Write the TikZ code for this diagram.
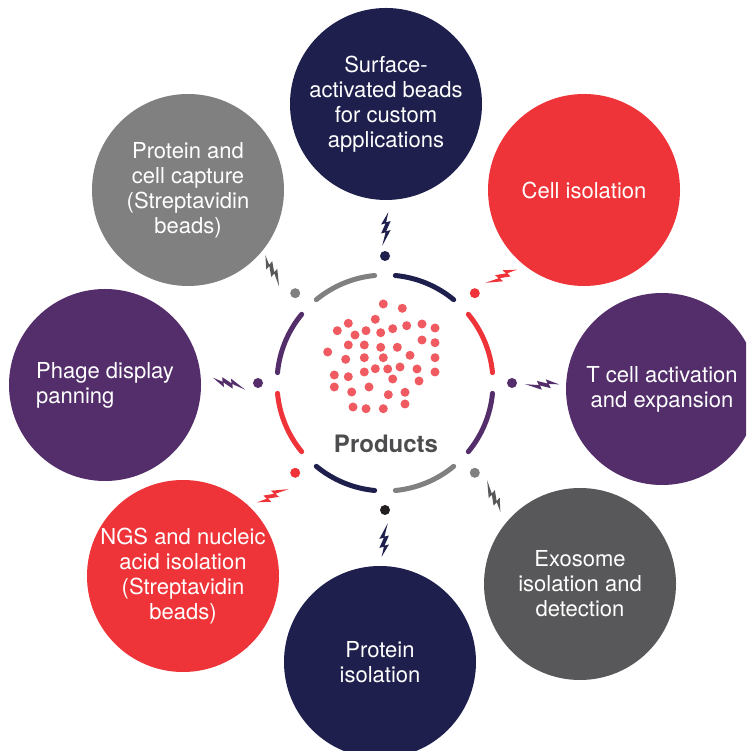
\documentclass[tikz,border=0pt]{standalone}
\usepackage{fontspec}
\setmainfont{TeX Gyre Heros}
\definecolor{cnavy}{HTML}{1E1F4C}
\definecolor{cred}{HTML}{EE3339}
\definecolor{cpurple}{HTML}{532E6B}
\definecolor{cdgray}{HTML}{58585A}
\definecolor{cgray}{HTML}{808080}
\definecolor{cdot}{HTML}{EF5B61}
\definecolor{cblack}{HTML}{231F20}
\definecolor{ctext}{HTML}{4D4D4F}
\tikzset{
  pics/bolt/.style={code={
    \fill[#1] (3,15) -- (-3.5,4) -- (0.5,5) -- (-3.5,-4) -- (0.5,-3) -- (-2.5,-15)
      -- (5,-1) -- (1,-2) -- (5,7) -- (1,6) -- cycle;}},
  sat/.style={circle, minimum size=192pt, inner sep=0pt, text=white, align=center,
    font=\fontsize{22}{25}\selectfont},
  ringarc/.style={line width=5pt, line cap=round},
  boltsize/.style={scale=1.12},
}
\begin{document}
\begin{tikzpicture}[x=1pt,y=1pt]
\useasboundingbox (0,0) rectangle (746,751);
\fill[white] (0,0) rectangle (746,751);
\clip (0,0) rectangle (746,751);

% satellite circles
\node[sat, fill=cnavy] (top) at (386,647) {Surface-\\activated beads\\for custom\\applications};
\node[sat, fill=cred] (ur) at (584,561) {Cell isolation};
\node[sat, fill=cpurple] (r) at (662,362) {T cell activation\\and expansion};
\node[sat, fill=cdgray] (lr) at (580,167) {Exosome\\isolation and\\detection};
\node[sat, fill=cnavy] (b) at (380,89) {Protein\\isolation};
\node[sat, fill=cred] (ll) at (183,175) {NGS and nucleic\\acid isolation\\(Streptavidin\\beads)};
\node[sat, fill=cpurple, align=left] (l) at (105,366) {Phage display\\panning};
\node[sat, fill=cgray] (ul) at (188,561) {Protein and\\cell capture\\(Streptavidin\\beads)};

% ring
\coordinate (c) at (385,368);
\foreach \k/\col in {0/cred,1/cnavy,2/cgray,3/cpurple,4/cred,5/cnavy,6/cgray,7/cpurple}{
  \draw[ringarc, \col] ([shift={(c)}]{45*\k+5.5}:108pt) arc[start angle={45*\k+5.5}, delta angle=34, radius=108pt];
}

% small dots around ring
\foreach \a/\col in {90/cnavy,45/cred,0/cpurple,-45/cgray,-90/cblack,-135/cred,180/cpurple,135/cgray}{
  \fill[\col] ([shift={(c)}]\a:127pt) circle[radius=5pt];
}

% bolts
\pic[boltsize, rotate=0] at (385,522) {bolt=cnavy};
\pic[boltsize, rotate=-57] at (501,475) {bolt=cred};
\pic[boltsize, rotate=-80] at (542,367) {bolt=cpurple};
\pic[boltsize, rotate=-147] at (494,255) {bolt=cdgray};
\pic[boltsize, rotate=180] at (385,211) {bolt=cnavy};
\pic[boltsize, rotate=123] at (273,255) {bolt=cred};
\pic[boltsize, rotate=80] at (229,367) {bolt=cpurple};
\pic[boltsize, rotate=34] at (272,480) {bolt=cdgray};

% central bead cluster
\foreach \p in {(383.3,447),(402.3,442.7),(375.3,431.7),(348.3,427.7),(337.3,420.3),(366,420.3),
  (380.7,418.3),(392.7,422.3),(406.7,425.3),(422,427),(435,423),(355,416),(348.3,406),(364.3,406),
  (380.7,403.7),(397.3,403.7),(422,411),(435,408.3),(327.7,399),(345.7,391.7),(364.3,393.3),
  (383.3,393.3),(410,395.7),(435,393.3),(334.3,376),(348.3,374.3),(364.3,379),(375.3,382.3),
  (387.7,382),(400,384),(417,382),(435,379),(392.7,372),(419,370),(334.3,364),(351.7,359),
  (369,364),(388.3,356.3),(405,358.7),(405,347),(353,344),(366,342.3),(383.3,342.3)}{
  \fill[cdot] \p circle[radius=4.5pt];
}

\node[text=ctext, inner sep=0pt, font=\fontsize{24}{28}\bfseries] (prod) at (386,307) {Products};
\end{tikzpicture}
\end{document}
